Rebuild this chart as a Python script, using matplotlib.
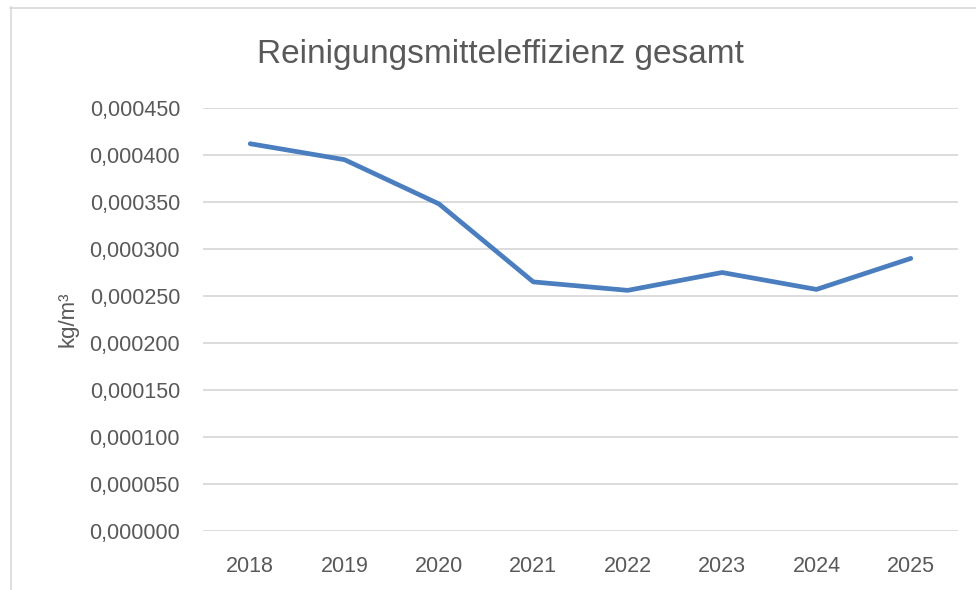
import matplotlib.pyplot as plt
from matplotlib.lines import Line2D
from matplotlib.ticker import FuncFormatter, MultipleLocator

years = ['2018', '2019', '2020', '2021', '2022', '2023', '2024', '2025']
effizienz = [0.000412, 0.000395, 0.000348, 0.000265, 0.000256, 0.000275, 0.000257, 0.000290]

title = 'Reinigungsmitteleffizienz gesamt'
ylabel = 'kg/m³'

plt.rcParams['font.family'] = ['Liberation Sans', 'DejaVu Sans']
grey = '#595959'

W, H = 976, 590
fig = plt.figure(figsize=(W / 100, H / 100), dpi=100)
ax = fig.add_axes([203 / W, 1 - 531 / H, (958 - 203) / W, (531 - 108) / H])

x = list(range(len(years)))
ax.plot(x, effizienz, color='#4A7EBF', lw=3.4, solid_capstyle='round',
        solid_joinstyle='round', zorder=3)

ax.set_xlim(-0.5, len(years) - 0.5)
ax.set_ylim(0, 0.00045)
ax.yaxis.set_major_locator(MultipleLocator(0.00005))
ax.yaxis.set_major_formatter(FuncFormatter(lambda v, p: f'{v:.6f}'.replace('.', ',')))
ax.set_xticks(x)
ax.set_xticklabels(years)

ax.grid(axis='y', color='#d9d9d9', lw=1.3)
ax.set_axisbelow(True)
for s in ax.spines.values():
    s.set_visible(False)
ax.tick_params(length=0, colors=grey, labelsize=15.5)
ax.tick_params(axis='y', pad=16.5)
ax.tick_params(axis='x', pad=18)

ax.set_ylabel(ylabel, color=grey, fontsize=16, labelpad=8)
fig.text(500 / W, 1 - 55 / H, title, ha='center', va='center', fontsize=24, color=grey)

# chart frame (cropped on the right and bottom)
fig.add_artist(Line2D([10.5 / W, 10.5 / W], [0, 1 - 7 / H], color='#d9d9d9', lw=1.2))
fig.add_artist(Line2D([10 / W, 1], [1 - 7.5 / H, 1 - 7.5 / H], color='#d9d9d9', lw=1.2))

fig.savefig('out.png', dpi=100, facecolor='white')
